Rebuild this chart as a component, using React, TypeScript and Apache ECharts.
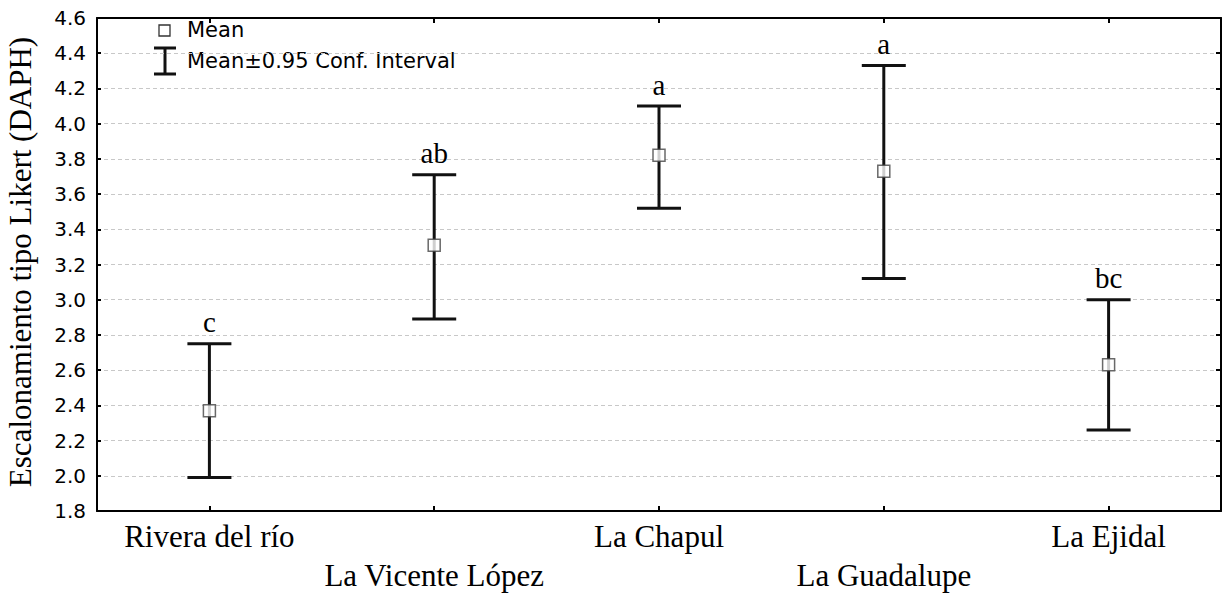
import React, { useEffect, useRef } from "react";
import * as echarts from "echarts";

const categories = ["Rivera del río", "La Vicente López", "La Chapul", "La Guadalupe", "La Ejidal"];
const means = [2.37, 3.31, 3.82, 3.73, 2.63];
const lower = [1.99, 2.89, 3.52, 3.12, 2.26];
const upper = [2.75, 3.71, 4.1, 4.33, 3.0];
const letters = ["c", "ab", "a", "a", "bc"];
const yMin = 1.8;
const yMax = 4.6;
const yStep = 0.2;

const SERIF = "'Liberation Serif', 'Times New Roman', serif";
const SANS = "'DejaVu Sans', sans-serif";

export default function App() {
  const ref = useRef<HTMLDivElement>(null);
  useEffect(() => {
    if (!ref.current) return;
    const chart = echarts.init(ref.current, null, { renderer: "svg" });
    const errData = categories.map((_, i) => [i, lower[i], upper[i]]);
    chart.setOption({
      animation: false,
      backgroundColor: "#ffffff",
      grid: { left: 97, right: 4, top: 18, bottom: 82, containLabel: false },
      xAxis: [
        {
          type: "category",
          data: categories,
          boundaryGap: true,
          position: "bottom",
          axisLine: { show: true, onZero: false, lineStyle: { color: "#000", width: 2 } },
          axisTick: { show: true, inside: true, alignWithLabel: true, length: 5, lineStyle: { color: "#000", width: 2 } },
          axisLabel: {
            interval: 0,
            margin: 6,
            fontFamily: SERIF,
            fontSize: 31,
            color: "#000",
            lineHeight: 39,
            formatter: (v: string, i: number) => (i % 2 === 1 ? "\n" + v : v),
          },
          splitLine: { show: false },
        },
        {
          type: "category",
          data: categories,
          boundaryGap: true,
          position: "top",
          axisLine: { show: true, onZero: false, lineStyle: { color: "#000", width: 2 } },
          axisTick: { show: true, inside: true, alignWithLabel: true, length: 5, lineStyle: { color: "#000", width: 2 } },
          axisLabel: { show: false },
          splitLine: { show: false },
        },
      ],
      yAxis: [
        {
          type: "value",
          min: yMin,
          max: yMax,
          interval: yStep,
          position: "left",
          axisLine: { show: true, onZero: false, lineStyle: { color: "#000", width: 2 } },
          axisTick: { show: true, inside: true, length: 4, lineStyle: { color: "#000", width: 2 } },
          axisLabel: {
            margin: 11,
            fontFamily: SANS,
            fontSize: 20,
            color: "#000",
            formatter: (v: number) => v.toFixed(1),
          },
          splitLine: { show: true, lineStyle: { color: "#c8c8c8", type: [4, 3], width: 1 } },
        },
        {
          type: "value",
          min: yMin,
          max: yMax,
          interval: yStep,
          position: "right",
          axisLine: { show: true, onZero: false, lineStyle: { color: "#000", width: 2 } },
          axisTick: { show: true, inside: true, length: 5, lineStyle: { color: "#000", width: 2 } },
          axisLabel: { show: false },
          splitLine: { show: false },
        },
      ],
      series: [
        {
          type: "custom",
          xAxisIndex: 0,
          yAxisIndex: 0,
          data: errData,
          z: 3,
          renderItem: (params: any, api: any) => {
            const x = api.value(0);
            const lo = api.coord([x, api.value(1)]);
            const hi = api.coord([x, api.value(2)]);
            const hw = 22;
            const st = { stroke: "#111", lineWidth: 3 };
            return {
              type: "group",
              children: [
                { type: "line", shape: { x1: hi[0], y1: hi[1], x2: lo[0], y2: lo[1] }, style: st },
                { type: "line", shape: { x1: hi[0] - hw, y1: hi[1], x2: hi[0] + hw, y2: hi[1] }, style: st },
                { type: "line", shape: { x1: lo[0] - hw, y1: lo[1], x2: lo[0] + hw, y2: lo[1] }, style: st },
                {
                  type: "text",
                  x: hi[0],
                  y: hi[1] - 7,
                  style: {
                    text: letters[params.dataIndex],
                    font: "29px " + SERIF,
                    fill: "#000",
                    textAlign: "center",
                    textVerticalAlign: "bottom",
                  },
                },
              ],
            };
          },
        },
        {
          type: "scatter",
          xAxisIndex: 0,
          yAxisIndex: 0,
          data: means.map((m, i) => [i, m]),
          symbol: "rect",
          symbolSize: 12,
          z: 5,
          itemStyle: { color: "#ffffff", borderColor: "#444", borderWidth: 1.5 },
        },
      ],
      graphic: [
        {
          type: "text",
          x: 20,
          y: 262,
          rotation: Math.PI / 2,
          style: {
            text: "Escalonamiento tipo Likert (DAPH)",
            font: "31px " + SERIF,
            fill: "#000",
            textAlign: "center",
            textVerticalAlign: "middle",
          },
        },
        {
          type: "rect",
          shape: { x: 159, y: 25, width: 11, height: 11 },
          style: { fill: "#fff", stroke: "#333", lineWidth: 1.3 },
        },
        {
          type: "text",
          x: 187,
          y: 30,
          style: { text: "Mean", font: "21px " + SANS, fill: "#000", textVerticalAlign: "middle" },
        },
        { type: "line", shape: { x1: 165, y1: 48, x2: 165, y2: 74 }, style: { stroke: "#111", lineWidth: 3 } },
        { type: "line", shape: { x1: 154, y1: 48, x2: 176, y2: 48 }, style: { stroke: "#111", lineWidth: 3 } },
        { type: "line", shape: { x1: 154, y1: 74, x2: 176, y2: 74 }, style: { stroke: "#111", lineWidth: 3 } },
        {
          type: "text",
          x: 187,
          y: 61,
          style: { text: "Mean±0.95 Conf. Interval", font: "21px " + SANS, fill: "#000", textVerticalAlign: "middle" },
        },
      ],
    });
    return () => chart.dispose();
  }, []);
  return <div ref={ref} style={{ position: "fixed", left: 0, top: 0, width: 1225, height: 595 }} />;
}
